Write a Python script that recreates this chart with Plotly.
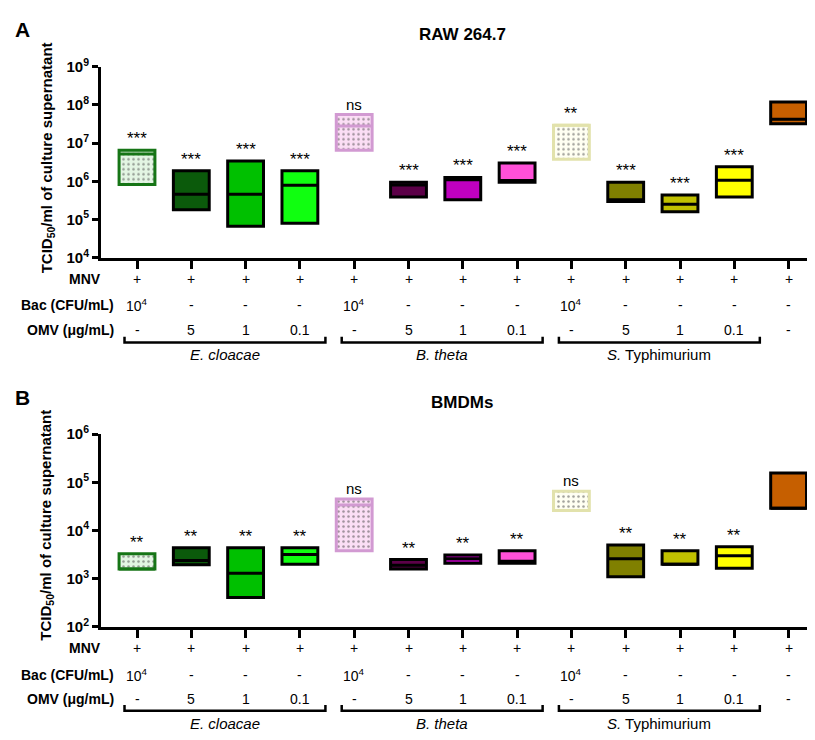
import plotly.graph_objects as go
import math

# ---------------- data ----------------
categories = list(range(13))
mnv_row = ["+", "+", "+", "+", "+", "+", "+", "+", "+", "+", "+", "+", "+"]
bac_row = ["10<sup>4</sup>", "-", "-", "-", "10<sup>4</sup>", "-", "-", "-", "10<sup>4</sup>", "-", "-", "-", "-"]
omv_row = ["-", "5", "1", "0.1", "-", "5", "1", "0.1", "-", "5", "1", "0.1", "-"]
species = ["<i>E. cloacae</i>", "<i>B. theta</i>", "<i>S.</i> Typhimurium"]
species_start = [0, 4, 8]
species_end = [3, 7, 11]

A_min = [8.3e5, 1.8e5, 6.7e4, 8.0e4, 6.5e6, 3.9e5, 3.3e5, 9.4e5, 3.8e6, 2.95e5, 1.6e5, 3.9e5, 3.2e7]
A_max = [6.5e6, 1.9e6, 3.4e6, 1.9e6, 5.6e7, 9.4e5, 1.26e6, 3.0e6, 2.96e7, 9.4e5, 4.4e5, 2.4e6, 1.2e8]
A_med = [5.2e6, 4.6e5, 4.6e5, 7.9e5, 2.8e7, 8.0e5, 1.1e6, 1.05e6, 2.96e7, 3.3e5, 2.5e5, 1.07e6, 4.2e7]
A_sig = ["***", "***", "***", "***", "ns", "***", "***", "***", "**", "***", "***", "***", ""]

B_min = [1.6e3, 1.95e3, 4.1e2, 2.0e3, 3.8e3, 1.6e3, 2.1e3, 2.1e3, 2.6e4, 1.1e3, 2.0e3, 1.65e3, 2.9e4]
B_max = [3.3e3, 4.4e3, 4.4e3, 4.4e3, 4.5e4, 2.5e3, 3.1e3, 3.8e3, 6.5e4, 5.0e3, 3.8e3, 4.6e3, 1.55e5]
B_med = [1.6e3, 2.4e3, 1.3e3, 3.2e3, 3.4e4, 1.9e3, 2.6e3, 2.3e3, 2.6e4, 2.6e3, 2.0e3, 3.0e3, 2.9e4]
B_sig = ["**", "**", "**", "**", "ns", "**", "**", "**", "ns", "**", "**", "**", ""]

fill_colors = ["#e3f5e3", "#0b5a0b", "#00c000", "#10ff10", "#fbdef5", "#5c0048", "#c000c0",
               "#ff50d8", "#fffff2", "#808000", "#c0c000", "#ffff00", "#c65f00"]
edge_colors = ["#167516", "#000000", "#000000", "#000000", "#d29ad2", "#000000", "#000000",
               "#000000", "#e2e2ac", "#000000", "#000000", "#000000", "#000000"]
pattern_shapes = [".", "", "", "", ".", "", "", "", ".", "", "", "", ""]
pattern_fg = ["#a4d4a4", "#000000", "#000000", "#000000", "#e0b0da", "#000000", "#000000",
              "#000000", "#e8e8c4", "#000000", "#000000", "#000000", "#000000"]

FONT = "Liberation Sans, Arial, sans-serif"
NARROW = "Liberation Sans Narrow, Arial Narrow, Liberation Sans, Arial, sans-serif"
W, H = 815, 740
OFF = 8  # page body margin offset

fig = go.Figure()

def px_x(p):
    return (p - OFF) / W

def px_y(p):
    return 1 - (p - OFF) / H

panels = [
    dict(mn=A_min, mx=A_max, md=A_med, sig=A_sig, xa="x", ya="y",
         ydom=[px_y(253), px_y(57)], title="<b>RAW 264.7</b>", title_y=24, letter="<b>A</b>", letter_y=19,
         ytitle_y=151, mnv_y=275, bac_y=302, omv_y=327, br_top=334, br_bot=340, sp_y=352),
    dict(mn=B_min, mx=B_max, md=B_med, sig=B_sig, xa="x2", ya="y2",
         ydom=[px_y(632), px_y(434)], title="<b>BMDMs</b>", title_y=402, letter="<b>B</b>", letter_y=396,
         ytitle_y=528, mnv_y=654, bac_y=681, omv_y=706, br_top=712, br_bot=718, sp_y=731),
]

annotations = []
shapes = []
bar_w = 0.66

def ann(**kw):
    d = dict(showarrow=False, xanchor="center", yanchor="middle")
    d.update(kw)
    annotations.append(d)

for pi, P in enumerate(panels):
    heights = [b - a for a, b in zip(P["mn"], P["mx"])]
    fig.add_trace(go.Bar(
        x=categories, y=heights, base=P["mn"], width=bar_w,
        xaxis=P["xa"], yaxis=P["ya"],
        marker=dict(color=fill_colors,
                    line=dict(color=edge_colors, width=3),
                    pattern=dict(shape=pattern_shapes, fgcolor=pattern_fg, bgcolor=fill_colors,
                                 size=5, solidity=0.2, fillmode="overlay")),
        showlegend=False, hoverinfo="skip"))
    for i in categories:
        fig.add_trace(go.Scatter(
            x=[i - bar_w / 2, i + bar_w / 2], y=[P["md"][i], P["md"][i]],
            mode="lines", line=dict(color=edge_colors[i], width=3),
            xaxis=P["xa"], yaxis=P["ya"], showlegend=False, hoverinfo="skip"))
        if P["sig"][i]:
            ann(x=i, y=math.log10(P["mx"][i]), xref=P["xa"], yref=P["ya"],
                text=P["sig"][i], yanchor="bottom", yshift=0,
                font=dict(family=FONT, size=17 if "*" in P["sig"][i] else 15, color="black"))
        ann(x=i, y=px_y(P["mnv_y"]), xref=P["xa"], yref="paper", text=mnv_row[i],
            font=dict(family=NARROW, size=14, color="black"))
        ann(x=i, y=px_y(P["bac_y"]), xref=P["xa"], yref="paper", text=bac_row[i],
            font=dict(family=NARROW, size=14, color="black"))
        ann(x=i, y=px_y(P["omv_y"]), xref=P["xa"], yref="paper", text=omv_row[i],
            font=dict(family=NARROW, size=14, color="black"))
    for s, e, name in zip(species_start, species_end, species):
        x0, x1 = s - 0.23, e + 0.47
        shapes.append(dict(type="path", xref=P["xa"], yref="paper",
                           path=f"M {x0},{px_y(P['br_top'])} L {x0},{px_y(P['br_bot'])} L {x1},{px_y(P['br_bot'])} L {x1},{px_y(P['br_top'])}",
                           line=dict(color="black", width=2.5)))
        ann(x=(x0 + x1) / 2, y=px_y(P["sp_y"]), xref=P["xa"], yref="paper", text=name,
            font=dict(family=NARROW, size=15, color="black"))
    # row labels
    ann(x=px_x(103), y=px_y(P["mnv_y"]), xref="paper", yref="paper", text="<b>MNV</b>",
        xanchor="right", font=dict(family=FONT, size=14, color="black"))
    ann(x=px_x(116), y=px_y(P["bac_y"]), xref="paper", yref="paper", text="<b>Bac (CFU/mL)</b>",
        xanchor="right", font=dict(family=FONT, size=14, color="black"))
    ann(x=px_x(116), y=px_y(P["omv_y"]), xref="paper", yref="paper", text="<b>OMV (μg/mL)</b>",
        xanchor="right", font=dict(family=FONT, size=14, color="black"))
    # titles
    ann(x=px_x(462), y=px_y(P["title_y"]), xref="paper", yref="paper", text=P["title"],
        font=dict(family=FONT, size=17, color="black"))
    ann(x=px_x(22), y=px_y(P["letter_y"]), xref="paper", yref="paper", text=P["letter"],
        font=dict(family=FONT, size=21, color="black"))
    ann(x=px_x(47), y=px_y(P["ytitle_y"]), xref="paper", yref="paper",
        text="<b>TCID<sub>50</sub>/ml of culture supernatant</b>", textangle=-90,
        font=dict(family=FONT, size=15, color="black"))

# x-axis: left edge at px 101, category 0 at px 137, spacing 54.3 px, right edge = figure edge
xdom = [px_x(101), 1.0]
cat0_px, step_px = 137, 54.3
xrange = [(101 - cat0_px) / step_px, (W + OFF - cat0_px) / step_px]

def yticks(lo, hi):
    vals = [10 ** k for k in range(lo, hi + 1)]
    txt = [f"<b>10<sup>{k}</sup></b>" for k in range(lo, hi + 1)]
    return vals, txt

axis_common = dict(showline=True, linecolor="black", linewidth=3, ticks="outside", tickcolor="black",
                   showgrid=False, zeroline=False)

va, ta = yticks(4, 9)
vb, tb = yticks(2, 6)

fig.update_layout(
    width=W, height=H, margin=dict(l=0, r=0, t=0, b=0),
    plot_bgcolor="white", paper_bgcolor="white", barmode="overlay",
    font=dict(family=FONT, color="black"),
    xaxis=dict(domain=xdom, range=xrange, anchor="y", tickvals=categories, showticklabels=False,
               ticklen=8, tickwidth=2.5, **axis_common),
    yaxis=dict(domain=panels[0]["ydom"], type="log", range=[4, 9], anchor="x", tickvals=va, ticktext=ta,
               ticklen=6, tickwidth=2.5, tickfont=dict(size=15, family=FONT), **axis_common),
    xaxis2=dict(domain=xdom, range=xrange, anchor="y2", tickvals=categories, showticklabels=False,
                ticklen=8, tickwidth=2.5, **axis_common),
    yaxis2=dict(domain=panels[1]["ydom"], type="log", range=[2, 6], anchor="x2", tickvals=vb, ticktext=tb,
                ticklen=6, tickwidth=2.5, tickfont=dict(size=15, family=FONT), **axis_common),
    annotations=annotations, shapes=shapes,
)

fig.write_html("out.html")
